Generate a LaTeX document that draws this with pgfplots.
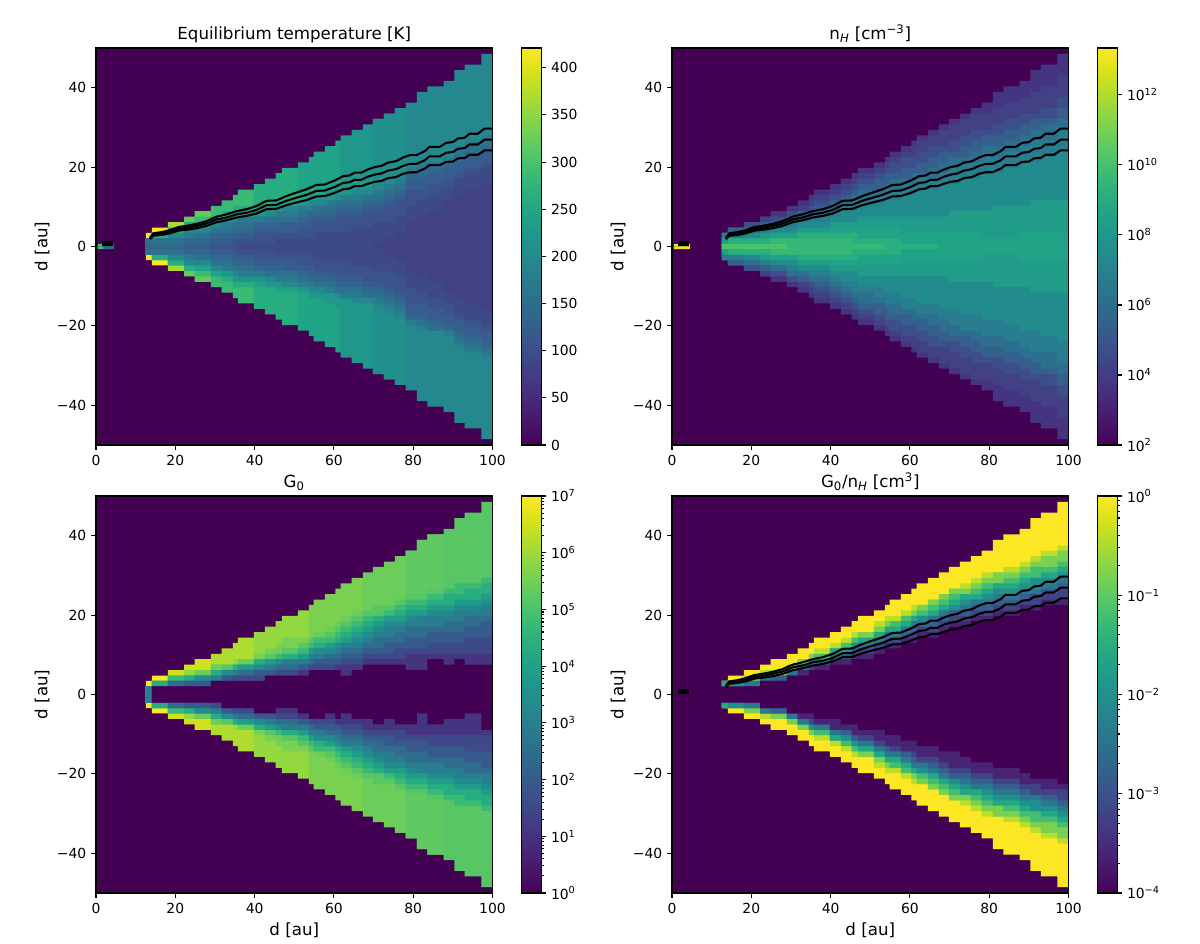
\documentclass[border=0pt]{standalone}
\usepackage{fontspec}
\setmainfont{DejaVu Sans}
\usepackage{pgfplots}
\usepackage{pgfplotstable}
\pgfplotsset{compat=1.18}

\newcommand{\tk}{\fontsize{10bp}{12bp}\selectfont}
\newcommand{\lb}{\fontsize{12bp}{14bp}\selectfont}
\definecolor{vbg}{HTML}{440154}

\pgfplotsset{
  filter discard warning=false,
  band/.style={color of colormap={#1 of viridis},fill=.,draw=none,const plot},
  base/.style={
    scale only axis,tick align=outside,axis on top,
    axis line style={line width=0.8bp},
    every tick/.style={black,line width=0.8bp},
    major tick length=3.5bp,minor tick length=2bp,
    tick label style={font=\tk},
  },
  panel/.style={
    base,anchor=south west,width=3.965in,height=3.97in,
    xmin=0,xmax=100,ymin=-50,ymax=50,
    xtick={0,20,40,60,80,100},xticklabels={0,20,40,60,80,100},
    ytick={-40,-20,0,20,40},yticklabels={−40,−20,0,20,40},
    xtick pos=bottom,ytick pos=left,
    axis background/.style={fill=vbg},
    ylabel={d [au]},xlabel style={font=\lb},ylabel style={font=\lb,yshift=-1.5bp},
    title style={font=\lb,at={(0.5,1)},anchor=base},
    colormap/viridis,colorbar,
  },
  cb/.style={
    base,at={(parent axis.north east)},anchor=north west,xshift=0.17in,
    width=0.2in,ytick pos=right,yticklabel pos=right,xtick=\empty,
  },
  cnt/.style={black,line width=1.5bp,no marks},
}

% one layer, mirrored about the midplane: colour (per mille), table, column
% columns hold cell rows counted from the midplane (1 row = 1.367 au)
\newcommand{\lup}[3]{\addplot[band={#1}] table[x=x,y expr={0.68+1.367*\thisrow{#3}}] {#2} \closedcycle;}
\newcommand{\ldn}[3]{\addplot[band={#1}] table[x=x,y expr={-0.68-1.367*\thisrow{#3}}] {#2} \closedcycle;}
\newcommand{\layer}[3]{\lup{#1}{#2}{#3}\ldn{#1}{#2}{#3}}
\newcommand{\contours}{%
  \addplot[cnt] table[x=x,y=t] {\tC};
  \addplot[cnt] table[x=x,y=m] {\tC};
  \addplot[cnt] table[x=x,y=b] {\tC};
  \addplot[black,line width=3.6bp,no marks] coordinates {(1.4,0.8)(4.2,0.8)};
}

\pgfplotstableread{
x a b c d e f g h i j k l m n o
12.6 2 1 1 1 1 1 1 1 1 1 0 nan nan nan nan
14.1 3 2 2 2 2 1 1 1 1 1 0 nan nan nan nan
18.1 3 4 3 3 3 2 2 2 1 1 0 nan nan nan nan
22.2 3 4 5 4 4 3 3 3 2 1 1 0 nan nan nan
24.9 nan 4 6 5 4 4 3 3 2 2 1 0 nan nan nan
29 nan nan 6 7 5 5 4 4 3 3 2 1 0 nan nan
31.7 nan nan 6 8 6 5 5 4 4 3 2 1 0 nan nan
34.5 nan nan nan 9 7 6 6 5 4 4 3 2 1 nan nan
35.8 nan nan nan 10 7 6 6 5 5 4 3 2 1 0 nan
39.8 nan nan nan 10 11 7 6 5 5 4 4 3 2 0 nan
42.6 nan nan nan 10 12 7 7 6 5 5 4 3 2 0 nan
45.3 nan nan nan nan 13 8 7 6 6 5 4 3 2 1 nan
46.9 nan nan nan nan 14 8 7 7 6 5 4 4 2 1 nan
50.9 nan nan nan nan 14 15 8 7 7 6 5 4 3 1 nan
53.7 nan nan nan nan 14 16 9 8 7 6 6 5 3 1 nan
54.9 nan nan nan nan nan 17 9 8 7 7 6 5 4 2 nan
57.7 nan nan nan nan nan 18 10 8 8 7 6 5 4 2 nan
60.4 nan nan nan nan nan 19 11 9 8 8 7 6 5 2 nan
61.7 nan nan nan nan nan 19 20 9 9 8 7 6 5 2 nan
64.5 nan nan nan nan nan 19 21 10 9 8 7 6 5 3 nan
67.3 nan nan nan nan nan nan 22 10 9 9 8 7 6 3 nan
69.8 nan nan nan nan nan nan 23 11 10 9 8 7 6 4 0
72.6 nan nan nan nan nan nan 24 12 11 10 9 8 7 4 1
75.4 nan nan nan nan nan nan 25 13 12 11 10 9 8 5 2
78.1 nan nan nan nan nan nan 25 26 14 13 13 12 10 7 4
80.9 nan nan nan nan nan nan 25 28 15 14 13 12 10 8 5
83.6 nan nan nan nan nan nan nan 29 15 15 14 13 11 9 6
87.7 nan nan nan nan nan nan nan 30 16 15 15 14 12 10 8
90.4 nan nan nan nan nan nan nan 32 18 17 16 15 13 12 9
93 nan nan nan nan nan nan nan 33 19 18 17 16 14 13 10
97.2 nan nan nan nan nan nan nan 35 20 19 18 17 15 14 11
100 nan nan nan nan nan nan nan 35 20 19 18 17 15 14 11
}\tT

\pgfplotstableread{
x q
69.8 23
72.6 24
75.4 25
78.1 25
80.9 25
}\tTp

\pgfplotstableread{
x a b c d e f g h i p j k
12.6 2 2 2 2 2 2 1 1 0 0 0 0
14.1 3 3 3 3 2 2 1 1 1 1 0 0
18.1 4 4 4 3 3 2 2 1 1 1 0 0
22.2 5 5 4 4 3 3 2 2 1 1 0 0
24.9 6 5 5 4 4 3 3 2 2 1 1 0
29 7 6 6 5 5 4 3 2 2 1 1 0
31.7 8 7 6 6 5 4 4 3 2 2 1 nan
34.5 9 8 7 6 6 5 4 3 2 2 1 nan
35.8 10 9 8 7 6 5 4 3 2 2 1 nan
39.8 11 10 9 8 7 6 5 4 3 2 1 nan
42.6 12 11 10 9 8 7 6 4 3 2 1 nan
45.3 13 12 11 10 9 8 6 4 3 2 0 nan
46.9 14 13 12 11 10 8 7 5 3 1 0 nan
50.9 15 14 13 12 10 9 7 5 3 1 0 nan
53.7 16 15 14 13 11 10 8 5 3 1 0 nan
54.9 17 16 15 13 12 10 8 5 3 1 nan nan
57.7 18 17 16 14 12 11 9 5 2 0 nan nan
60.4 19 18 16 14 13 11 9 5 2 0 nan nan
61.7 20 19 17 15 13 12 10 5 2 0 nan nan
64.5 21 20 18 16 14 12 10 5 2 0 nan nan
67.3 22 21 18 17 15 13 11 5 2 0 nan nan
69.8 23 22 19 17 16 14 11 6 2 nan nan nan
72.6 24 23 20 18 16 15 12 6 2 nan nan nan
75.4 25 24 21 19 17 15 12 6 2 nan nan nan
78.1 26 24 21 20 18 16 13 6 1 nan nan nan
80.9 28 25 22 20 18 16 13 7 1 nan nan nan
83.6 29 26 23 21 19 17 14 7 1 nan nan nan
87.7 30 27 24 22 20 18 15 7 2 nan nan nan
90.4 32 28 24 23 21 19 15 8 2 nan nan nan
93 33 29 25 23 22 19 16 8 2 nan nan nan
97.2 35 31 27 25 23 21 17 8 2 nan nan nan
100 35 31 27 25 23 21 17 8 2 nan nan nan
}\tN

\pgfplotstableread{
x a b c d e f g h i j k l m n o p u v
12.6 2 1 1 1 1 1 1 1 1 1 1 1 nan nan nan nan nan nan
14.1 3 2 2 2 2 2 2 2 2 1 1 1 1 1 1 1 1 1
18.1 3 4 3 3 3 3 3 3 2 2 2 2 2 1 1 1 1 1
22.2 3 5 4 4 3 3 3 3 3 2 2 2 2 2 1 1 1 1
24.9 nan 6 4 4 4 4 3 3 3 3 3 2 2 2 1 1 1 1
29 nan 6 7 5 5 5 4 4 4 3 3 3 2 2 2 1 2 1
31.7 nan 6 8 5 5 5 5 4 4 4 4 3 3 3 2 2 2 2
34.5 nan nan 9 6 5 5 5 5 5 4 4 4 3 3 3 2 2 2
35.8 nan nan 10 6 6 6 5 5 5 5 4 4 4 3 3 2 2 2
39.8 nan nan 10 11 7 6 6 6 6 5 5 4 4 4 3 2 2 3
42.6 nan nan 10 12 8 7 7 6 6 6 5 5 4 4 3 3 3 3
45.3 nan nan nan 13 9 8 7 7 6 6 6 5 5 4 4 3 3 2
46.9 nan nan nan 14 10 8 8 7 7 6 6 6 5 4 4 3 3 2
50.9 nan nan nan 15 10 9 9 8 7 7 6 6 5 5 4 4 3 3
53.7 nan nan nan 15 16 10 10 9 8 8 7 7 6 5 5 4 4 4
54.9 nan nan nan 15 17 11 10 10 9 8 8 7 6 6 5 4 4 4
57.7 nan nan nan nan 18 12 11 10 9 9 8 7 7 6 5 4 4 3
60.4 nan nan nan nan 19 13 12 11 10 9 9 8 7 6 5 5 4 4
61.7 nan nan nan nan 20 14 13 12 11 10 9 9 8 7 6 5 3 3
64.5 nan nan nan nan 21 15 14 13 12 11 10 9 8 7 6 5 4 4
67.3 nan nan nan nan 21 22 15 14 13 12 11 10 9 8 7 6 5 4
69.8 nan nan nan nan 21 23 16 14 14 13 12 11 10 8 7 6 5 5
72.6 nan nan nan nan nan 24 16 15 14 14 13 12 10 9 7 6 5 4
75.4 nan nan nan nan nan 25 17 16 15 14 13 12 11 9 8 6 5 5
78.1 nan nan nan nan nan 26 18 17 16 15 14 13 12 10 8 7 4 5
80.9 nan nan nan nan nan 28 18 17 16 15 14 14 12 10 8 7 4 3
83.6 nan nan nan nan nan 29 19 18 17 16 15 14 12 11 9 7 6 5
87.7 nan nan nan nan nan 29 30 19 18 16 15 14 13 11 9 7 5 4
90.4 nan nan nan nan nan 29 32 20 18 17 16 15 13 11 9 7 6 4
93 nan nan nan nan nan nan 33 20 19 17 16 15 14 12 10 7 5 3
97.2 nan nan nan nan nan nan 35 21 20 18 17 16 14 13 10 7 5 6
100 nan nan nan nan nan nan 35 21 20 18 17 16 14 13 10 7 5 6
}\tG

\pgfplotstableread{
x q
78.1 26
80.9 28
83.6 29
87.7 29
90.4 29
}\tGp

\pgfplotstableread{
x a b c d e f g h i j u v
12.4 nan nan nan nan nan nan nan nan nan nan 1 1
12.6 2 2 2 2 2 nan nan nan nan nan 1 1
14.1 3 2 2 2 2 2 nan nan nan nan 1 1
18.1 4 3 3 2 2 2 2 1 1 1 1 1
22.2 5 4 3 3 3 3 3 2 2 2 2 2
24.9 6 4 4 3 3 3 3 3 2 2 2 2
29 7 5 5 4 4 4 4 3 3 3 3 3
31.7 8 6 6 5 5 5 5 4 4 4 3 3
34.5 9 7 7 6 6 6 5 5 5 4 4 3
35.8 10 8 7 7 6 6 6 5 5 5 4 4
39.8 11 9 8 8 8 7 7 6 6 6 5 4
42.6 12 10 9 9 8 8 7 7 6 6 5 5
45.3 13 11 10 10 9 9 8 8 7 7 6 5
46.9 14 11 11 10 10 9 9 8 8 7 6 6
50.9 15 13 12 11 11 10 10 9 9 8 7 6
53.7 16 14 13 12 12 11 11 10 9 9 8 7
54.9 17 14 13 13 12 11 11 10 10 9 8 7
57.7 18 15 14 14 13 12 12 11 10 10 9 8
60.4 19 16 15 14 14 13 13 12 11 10 9 8
61.7 20 16 16 15 14 14 13 12 12 11 10 9
64.5 21 17 17 16 15 14 14 13 12 11 10 9
67.3 22 18 18 17 16 15 15 14 13 12 11 10
69.8 23 19 19 18 17 16 15 15 14 13 12 10
72.6 24 20 19 18 18 17 16 15 14 13 12 11
75.4 25 21 20 19 18 17 17 16 15 14 13 12
78.1 26 22 21 20 19 18 17 16 15 14 13 12
80.9 28 22 22 20 20 19 18 17 16 15 14 13
83.6 29 23 22 21 20 19 18 17 16 15 14 13
87.7 30 24 23 22 21 20 19 18 17 16 15 14
90.4 32 25 24 23 21 21 19 18 18 16 15 15
93 33 26 25 23 22 21 20 19 18 17 16 15
97.2 35 27 26 24 23 22 21 20 19 17 16 16
100 35 27 26 24 23 22 21 20 19 17 16 16
}\tR

\pgfplotstableread{
x t m b
13.6 2.2 2.0 1.8
14.4 3.3 3.0 2.7
16.5 3.6 3.3 2.9
18.6 4.1 3.7 3.3
20.8 4.9 4.4 4.0
22.8 5.2 4.7 4.2
25.4 5.7 5.2 4.6
27.9 6.4 5.8 5.2
30.4 7.5 6.8 6.1
32.9 8.1 7.3 6.6
35.5 8.9 8.1 7.3
38 9.4 8.5 7.7
40.5 10.2 9.2 8.3
43 11.5 10.4 9.4
45.5 11.6 10.5 9.5
48 12.7 11.5 10.4
50.6 13.6 12.3 11.1
53.1 14.4 13.0 11.7
55.6 15.5 14.0 12.6
57.7 15.6 14.1 12.7
60.2 16.6 15.0 13.5
62.3 17.7 16.0 14.4
64 17.9 16.2 14.6
65.2 18.6 16.8 15.2
66.9 18.6 16.8 15.2
68.6 19.4 17.6 15.8
70.3 20 18.1 16.3
72 20.3 18.4 16.5
73.6 21.1 19.1 17.2
75.7 21.5 19.5 17.5
77.4 22.4 20.3 18.3
79.1 23 20.8 18.7
80.8 23 20.8 18.7
82.9 24 21.7 19.6
84.1 25.1 22.7 20.5
86.7 25.1 22.7 20.5
88.3 26.1 23.6 21.3
90 26.3 23.8 21.4
91.3 27.2 24.6 22.2
93 27.4 24.8 22.3
94.2 28.4 25.7 23.1
96.3 28.4 25.7 23.1
98 29.7 26.9 24.2
100 29.7 26.9 24.2
}\tC

\begin{document}
\begin{tikzpicture}
\useasboundingbox (0,0) rectangle (12in,9.44in);

% temperature
\begin{axis}[panel,at={(0.96in,4.99in)},title={Equilibrium temperature [K]},
  point meta min=0,point meta max=421,
  colorbar style={cb,ytick={0,50,100,150,200,250,300,350,400},
    yticklabels={0,50,100,150,200,250,300,350,400}}]
\layer{1000}{\tT}{a}\layer{870}{\tT}{b}\layer{760}{\tT}{c}\layer{680}{\tT}{d}
\layer{620}{\tT}{e}\layer{580}{\tT}{f}\layer{530}{\tT}{g}\layer{500}{\tTp}{q}\layer{465}{\tT}{h}
\layer{410}{\tT}{i}\layer{370}{\tT}{j}\layer{330}{\tT}{k}\layer{290}{\tT}{l}
\layer{250}{\tT}{m}\layer{220}{\tT}{n}\layer{190}{\tT}{o}
\addplot[band=700] coordinates {(0.5,0.68)(1.9,0.68)} \closedcycle;
\addplot[band=700] coordinates {(0.5,-0.68)(1.9,-0.68)} \closedcycle;
\addplot[band=360] coordinates {(1.9,0.68)(4.6,0.68)} \closedcycle;
\addplot[band=360] coordinates {(1.9,-0.68)(4.6,-0.68)} \closedcycle;
\contours
\end{axis}

% density
\begin{axis}[panel,at={(6.72in,4.99in)},title={n\textsubscript{\textit{H}} [cm\textsuperscript{−3}]},
  point meta min=2,point meta max=13.34,
  colorbar style={cb,ytick={2,4,6,8,10,12},
    yticklabels={10\textsuperscript{2},10\textsuperscript{4},10\textsuperscript{6},10\textsuperscript{8},10\textsuperscript{10},10\textsuperscript{12}}}]
\layer{150}{\tN}{a}\layer{190}{\tN}{b}\layer{240}{\tN}{c}\layer{300}{\tN}{d}
\layer{360}{\tN}{e}\layer{420}{\tN}{f}\layer{480}{\tN}{g}\layer{550}{\tN}{h}
\layer{580}{\tN}{i}\layer{630}{\tN}{p}\layer{670}{\tN}{j}\layer{720}{\tN}{k}
\addplot[band=970] coordinates {(0.5,0.68)(4.6,0.68)} \closedcycle;
\addplot[band=970] coordinates {(0.5,-0.68)(4.6,-0.68)} \closedcycle;
\contours
\end{axis}

% G0
\begin{axis}[panel,at={(0.96in,0.51in)},title={G\textsubscript{0}},xlabel={d [au]},
  point meta min=0,point meta max=7,
  colorbar style={cb,ytick={0,1,2,3,4,5,6,7},
    yticklabels={10\textsuperscript{0},10\textsuperscript{1},10\textsuperscript{2},10\textsuperscript{3},10\textsuperscript{4},10\textsuperscript{5},10\textsuperscript{6},10\textsuperscript{7}},
    minor ytick={.301,.477,.602,.699,.778,.845,.903,.954,1.301,1.477,1.602,1.699,1.778,1.845,1.903,1.954,2.301,2.477,2.602,2.699,2.778,2.845,2.903,2.954,3.301,3.477,3.602,3.699,3.778,3.845,3.903,3.954,4.301,4.477,4.602,4.699,4.778,4.845,4.903,4.954,5.301,5.477,5.602,5.699,5.778,5.845,5.903,5.954,6.301,6.477,6.602,6.699,6.778,6.845,6.903,6.954}}]
\layer{1000}{\tG}{a}\layer{930}{\tG}{b}\layer{880}{\tG}{c}\layer{840}{\tG}{d}
\layer{800}{\tG}{e}\layer{775}{\tG}{f}\layer{755}{\tGp}{q}\layer{740}{\tG}{g}\layer{680}{\tG}{h}
\layer{620}{\tG}{i}\layer{550}{\tG}{j}\layer{480}{\tG}{k}\layer{420}{\tG}{l}
\layer{350}{\tG}{m}\layer{280}{\tG}{n}\layer{220}{\tG}{o}\layer{150}{\tG}{p}
\lup{0}{\tG}{u}\ldn{0}{\tG}{v}
\addplot[vbg,line width=1bp,no marks] coordinates {(14.1,0)(100,0)};
\end{axis}

% ratio
\begin{axis}[panel,at={(6.72in,0.51in)},title={G\textsubscript{0}/n\textsubscript{\textit{H}} [cm\textsuperscript{3}]},xlabel={d [au]},
  point meta min=-4,point meta max=0,
  colorbar style={cb,ytick={-4,-3,-2,-1,0},
    yticklabels={10\textsuperscript{−4},10\textsuperscript{−3},10\textsuperscript{−2},10\textsuperscript{−1},10\textsuperscript{0}},
    minor ytick={-3.699,-3.523,-3.398,-3.301,-3.222,-3.155,-3.097,-3.046,-2.699,-2.523,-2.398,-2.301,-2.222,-2.155,-2.097,-2.046,-1.699,-1.523,-1.398,-1.301,-1.222,-1.155,-1.097,-1.046,-.699,-.523,-.398,-.301,-.222,-.155,-.097,-.046}}]
\layer{1000}{\tR}{a}\layer{900}{\tR}{b}\layer{800}{\tR}{c}\layer{700}{\tR}{d}
\layer{600}{\tR}{e}\layer{500}{\tR}{f}\layer{400}{\tR}{g}\layer{300}{\tR}{h}
\layer{200}{\tR}{i}\layer{100}{\tR}{j}
\lup{0}{\tR}{u}\ldn{0}{\tR}{v}
\addplot[vbg,line width=1bp,no marks] coordinates {(12.4,0)(100,0)};
\contours
\end{axis}
\end{tikzpicture}
\end{document}
